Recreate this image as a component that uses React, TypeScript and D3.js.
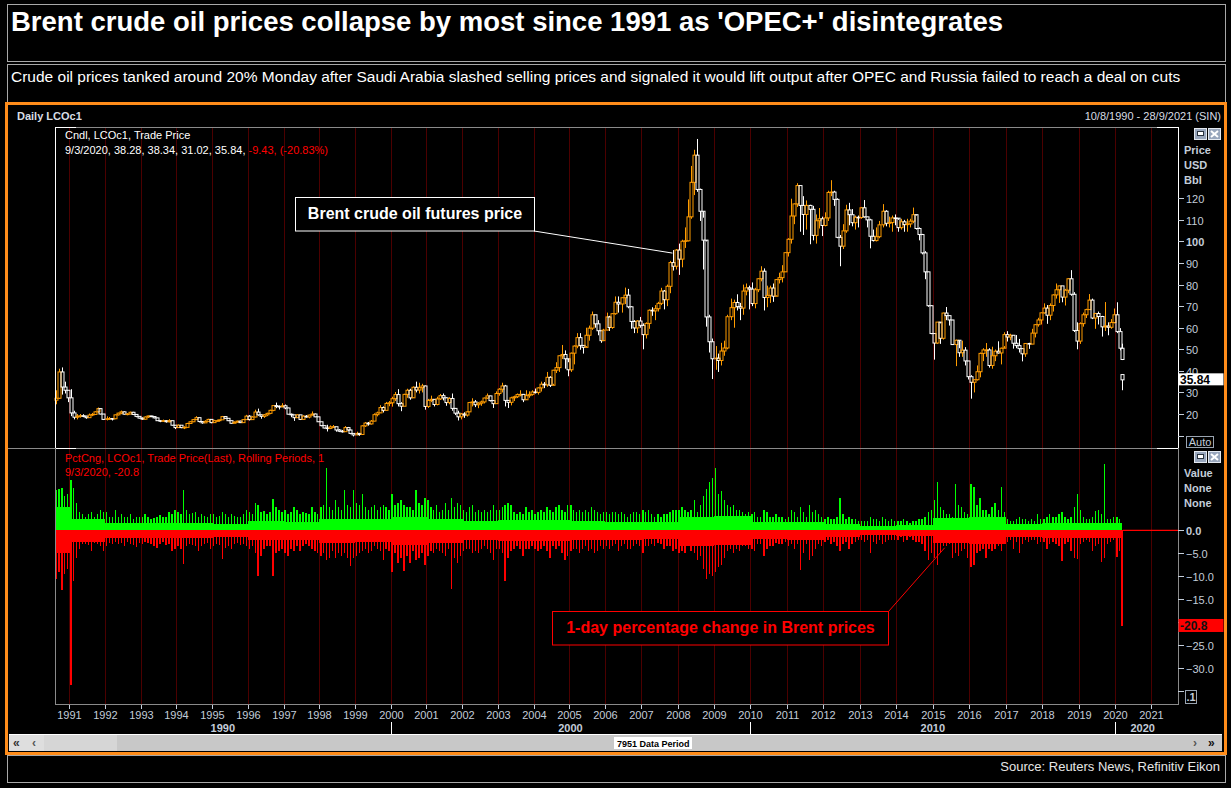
import React from "react";
import * as d3 from "d3";

const W = 1231;
const H = 788;
const ORANGE = "#ff9c00";
const GREEN = "#00ff00";
const RED = "#ff0000";
const AXIS = "#c3cdd9";
const GRID = "#4c0000";
const FONT = "'Liberation Sans', Arial, sans-serif";

// ---- monthly Brent candles, Aug 1990 .. Feb 2020 (open = previous close) ----
const startYear = 1990;
const startMonth = 7;
const firstOpen = 26.4;

const close = [
  27.3, 39.5, 32.5, 31.0, 27.5,
  20.5, 18.5, 19.0, 19.2, 19.0, 18.3, 19.5, 19.8, 21.0, 22.5, 20.0, 17.5,
  17.8, 17.9, 17.8, 19.6, 20.4, 21.0, 19.9, 20.0, 20.8, 19.8, 18.9, 18.1,
  17.6, 18.6, 19.1, 18.8, 18.2, 16.9, 16.7, 16.9, 16.4, 16.9, 14.8, 13.7,
  14.8, 13.7, 13.8, 15.6, 16.4, 17.4, 18.3, 16.5, 15.9, 16.6, 17.5, 16.0,
  16.9, 16.9, 17.3, 18.8, 18.0, 16.9, 15.7, 16.2, 16.7, 16.0, 17.4, 19.0,
  17.4, 18.6, 20.9, 19.6, 18.9, 19.6, 20.3, 21.7, 23.9, 23.5, 23.4, 23.8,
  22.8, 19.9, 19.6, 18.3, 19.6, 17.5, 19.0, 18.6, 19.5, 20.0, 18.7, 16.4,
  14.6, 13.5, 13.3, 14.0, 14.1, 12.6, 12.0, 11.8, 13.7, 12.6, 11.0, 10.3,
  11.0, 10.5, 14.5, 15.8, 15.4, 16.7, 19.7, 20.5, 23.0, 21.7, 24.9, 25.2,
  27.1, 29.0, 24.8, 23.6, 29.1, 31.0, 27.5, 32.4, 31.1, 32.2, 33.0, 23.5,
  26.3, 26.8, 24.4, 27.0, 28.5, 27.5, 25.3, 27.2, 22.6, 20.4, 18.7, 20.0,
  19.5, 21.0, 25.3, 25.6, 24.3, 25.0, 25.6, 27.4, 28.4, 26.2, 24.8, 29.5,
  31.5, 33.0, 26.3, 25.4, 27.5, 28.0, 29.0, 29.1, 26.6, 28.5, 29.1, 30.2,
  30.0, 32.1, 33.8, 33.5, 37.0, 33.3, 40.3, 41.5, 47.0, 47.6, 45.6, 40.5,
  48.2, 51.5, 55.4, 51.8, 50.9, 56.5, 59.8, 66.0, 61.8, 58.6, 54.0, 58.9,
  65.0, 60.1, 66.5, 71.8, 71.0, 73.9, 75.1, 69.7, 62.9, 59.9, 63.1, 61.1,
  56.8, 62.0, 68.1, 67.8, 68.8, 71.3, 77.0, 73.0, 79.2, 90.2, 88.5, 96.0,
  91.8, 100.1, 100.3, 111.4, 127.4, 140.0, 124.1, 114.0, 100.6, 65.0, 53.5, 45.6,
  45.9, 44.8, 49.2, 50.6, 65.1, 69.3, 71.7, 69.8, 69.1, 77.0, 78.5, 77.9,
  71.2, 77.6, 82.7, 86.2, 74.0, 75.0, 78.4, 74.6, 82.3, 83.2, 85.9, 94.8,
  101.0, 111.8, 117.4, 125.9, 116.7, 112.5, 116.7, 114.9, 102.8, 109.6, 110.5, 107.4,
  110.9, 122.7, 122.9, 119.5, 101.9, 97.8, 104.9, 114.6, 112.4, 108.7, 111.2, 111.1,
  115.6, 111.4, 110.0, 102.4, 100.4, 102.2, 107.7, 114.0, 108.4, 108.8, 110.9, 110.8,
  106.4, 109.1, 107.8, 108.1, 109.4, 112.4, 106.0, 103.2, 94.7, 85.9, 70.2, 57.3,
  52.9, 62.6, 55.1, 66.8, 65.6, 63.6, 52.2, 54.2, 48.4, 49.6, 44.6, 37.3,
  34.7, 35.9, 39.6, 48.1, 49.7, 49.7, 42.5, 47.0, 49.1, 48.3, 50.5, 56.8,
  55.7, 56.5, 52.8, 51.7, 50.3, 47.9, 52.7, 52.4, 57.5, 61.4, 63.6, 66.9,
  69.1, 65.8, 70.3, 75.2, 77.6, 79.4, 74.2, 77.4, 82.7, 75.5, 58.7, 53.8,
  61.9, 66.0, 68.4, 72.8, 64.5, 66.6, 65.2, 60.4, 60.8, 60.2, 62.4, 66.0,
  58.2, 50.5,
];

const high = [
  31.0, 41.0, 41.6, 35.0, 31.0,
  31.5, 21.5, 20.0, 20.0, 19.9, 19.2, 20.2, 20.5, 21.3, 23.0, 22.6, 19.9,
  18.9, 18.6, 18.1, 19.8, 20.6, 21.6, 21.3, 20.4, 21.1, 21.0, 19.8, 19.0,
  18.4, 18.9, 19.3, 19.2, 19.0, 18.3, 17.2, 17.4, 17.2, 17.6, 17.0, 14.9,
  15.2, 14.8, 14.3, 15.9, 16.7, 17.7, 19.0, 18.3, 16.7, 17.1, 17.8, 17.4,
  17.3, 17.3, 17.4, 19.1, 19.0, 18.0, 17.0, 16.6, 16.9, 16.9, 17.6, 19.6,
  19.5, 19.0, 22.0, 22.5, 19.8, 20.0, 20.6, 22.0, 24.0, 25.3, 24.0, 25.0,
  24.4, 22.9, 20.2, 19.6, 19.9, 19.6, 19.4, 19.5, 19.7, 21.2, 20.2, 18.7,
  16.4, 14.7, 15.0, 14.7, 14.9, 14.1, 13.0, 12.6, 14.4, 14.0, 12.7, 11.0,
  11.8, 11.2, 14.8, 16.3, 16.3, 17.2, 20.3, 21.1, 24.1, 23.5, 25.6, 26.0,
  28.0, 30.2, 31.5, 25.5, 29.4, 31.7, 31.7, 32.8, 35.0, 34.5, 34.0, 33.2,
  27.0, 28.5, 26.9, 28.0, 29.3, 29.5, 27.8, 27.8, 29.5, 22.8, 21.5, 20.5,
  20.8, 21.2, 25.6, 27.3, 26.5, 25.5, 26.2, 27.6, 29.5, 28.5, 26.5, 30.5,
  32.0, 34.5, 33.5, 26.5, 28.0, 28.5, 29.5, 31.0, 29.3, 31.0, 30.5, 31.0,
  31.8, 32.4, 35.0, 34.8, 39.5, 37.5, 40.5, 44.0, 47.2, 52.0, 49.5, 44.0,
  48.5, 51.8, 57.5, 57.5, 52.0, 60.0, 61.0, 67.5, 66.0, 63.5, 58.5, 59.5,
  67.0, 65.5, 66.8, 74.5, 74.5, 74.0, 78.6, 78.0, 70.0, 63.5, 63.5, 65.0,
  62.0, 62.5, 68.5, 69.5, 70.5, 72.0, 78.5, 77.5, 80.0, 91.0, 96.0, 96.5,
  99.0, 100.8, 106.5, 119.5, 135.0, 142.5, 147.5, 124.5, 111.0, 100.0, 66.0, 55.0,
  51.5, 48.0, 53.0, 54.0, 66.0, 73.5, 73.0, 75.5, 71.5, 80.0, 80.5, 79.5,
  81.0, 78.5, 83.0, 88.5, 87.5, 79.5, 79.5, 80.5, 82.6, 85.5, 89.0, 95.0,
  101.5, 119.8, 117.6, 127.0, 126.0, 121.0, 119.0, 117.0, 116.5, 112.5, 115.5, 111.5,
  113.5, 123.5, 128.4, 123.5, 120.0, 103.0, 108.0, 117.0, 117.9, 115.0, 112.0, 112.0,
  116.0, 119.2, 111.5, 110.5, 105.5, 106.5, 109.5, 117.3, 114.5, 111.5, 112.0, 112.5,
  110.0, 110.5, 110.0, 110.5, 110.5, 115.7, 112.0, 106.5, 103.5, 95.5, 86.0, 70.5,
  57.5, 62.6, 62.0, 67.0, 69.6, 65.5, 63.5, 54.5, 50.5, 54.0, 51.0, 44.5,
  38.0, 36.0, 42.5, 48.5, 50.5, 52.9, 50.5, 51.2, 49.9, 53.7, 50.8, 57.9,
  58.4, 57.2, 56.5, 56.6, 54.8, 50.5, 52.9, 53.0, 59.5, 61.7, 64.6, 67.1,
  71.3, 70.5, 71.3, 75.5, 80.5, 79.5, 79.4, 78.0, 83.0, 86.7, 76.5, 62.5,
  62.5, 67.0, 68.8, 75.6, 73.5, 66.9, 67.5, 65.5, 71.9, 62.5, 64.0, 68.9,
  71.8, 59.8,
];

const low = [
  24.5, 27.0, 29.0, 29.5, 25.5,
  19.0, 17.5, 17.5, 18.3, 18.5, 17.8, 18.3, 19.0, 19.6, 20.7, 19.8, 17.2,
  17.0, 17.3, 17.0, 17.6, 19.3, 19.9, 19.7, 19.4, 19.9, 19.5, 18.5, 17.9,
  17.3, 17.4, 18.2, 18.5, 18.0, 16.8, 16.2, 16.4, 16.0, 16.1, 14.6, 13.0,
  13.5, 13.4, 13.0, 13.8, 15.5, 16.2, 17.3, 16.1, 15.5, 15.8, 16.5, 15.7,
  15.9, 16.6, 16.5, 17.3, 17.8, 16.7, 15.5, 15.7, 16.0, 15.8, 16.0, 17.4,
  17.0, 17.3, 18.5, 19.2, 17.8, 18.2, 19.0, 19.9, 21.3, 22.7, 22.1, 23.0,
  22.2, 19.8, 18.5, 16.8, 18.2, 17.2, 17.6, 18.3, 18.0, 19.3, 18.5, 16.3,
  14.3, 13.3, 11.9, 13.0, 13.6, 11.8, 11.6, 11.4, 11.9, 12.2, 10.6, 9.6,
  10.2, 9.9, 10.5, 14.0, 14.6, 15.1, 16.6, 18.9, 20.7, 20.7, 21.6, 23.6,
  23.4, 26.0, 23.5, 21.3, 23.6, 27.5, 26.6, 27.8, 30.0, 29.5, 30.0, 22.0,
  22.8, 25.5, 23.5, 24.0, 26.5, 26.3, 23.8, 24.5, 21.5, 19.5, 17.0, 17.5,
  18.2, 18.8, 21.0, 23.5, 23.2, 22.7, 23.8, 24.9, 27.0, 25.8, 22.8, 24.8,
  28.5, 30.0, 23.5, 22.8, 24.0, 26.0, 27.4, 28.2, 25.5, 27.0, 27.5, 28.5,
  29.5, 29.0, 30.4, 32.0, 32.6, 32.5, 34.0, 39.0, 39.5, 45.5, 41.0, 37.5,
  39.5, 43.0, 50.5, 49.8, 48.0, 51.5, 54.0, 59.0, 60.0, 56.5, 53.0, 54.0,
  59.0, 58.5, 59.5, 66.0, 67.0, 67.0, 71.0, 69.0, 59.5, 57.5, 57.5, 60.0,
  50.0, 55.0, 59.5, 65.5, 63.5, 67.5, 70.5, 68.5, 70.0, 76.0, 86.5, 87.0,
  84.5, 88.0, 97.0, 100.0, 110.5, 121.5, 123.0, 109.5, 87.0, 60.5, 48.5, 36.2,
  40.5, 39.5, 42.5, 47.0, 50.0, 63.5, 60.0, 68.0, 63.5, 66.0, 75.0, 68.5,
  70.0, 69.0, 76.5, 81.5, 68.0, 69.5, 71.5, 72.0, 75.0, 80.5, 81.0, 86.0,
  93.0, 99.0, 108.0, 116.0, 104.5, 103.0, 105.5, 98.7, 100.5, 99.0, 106.0, 102.5,
  107.0, 109.5, 121.0, 116.5, 101.5, 88.5, 96.5, 104.0, 107.5, 107.0, 105.5, 106.5,
  110.5, 111.0, 106.5, 96.8, 100.0, 100.0, 101.5, 106.5, 107.0, 106.5, 104.5, 107.5,
  104.5, 105.5, 104.5, 104.5, 106.5, 108.5, 105.5, 100.5, 94.0, 82.5, 69.7, 57.0,
  45.2, 52.5, 52.5, 54.5, 63.5, 61.0, 52.0, 42.2, 46.5, 46.5, 42.5, 36.0,
  27.1, 30.0, 35.5, 37.0, 44.5, 46.5, 41.5, 41.0, 44.5, 48.0, 43.0, 51.5,
  53.6, 54.2, 50.3, 50.5, 48.5, 44.4, 46.5, 50.2, 52.5, 55.5, 60.5, 61.5,
  66.5, 61.8, 63.5, 67.5, 73.5, 71.5, 71.8, 70.3, 76.0, 74.8, 58.0, 50.0,
  52.5, 60.5, 64.5, 68.5, 64.0, 59.5, 61.5, 55.9, 58.5, 56.5, 59.5, 62.0,
  57.5, 49.5,
];

// last sessions, March 2020 (week to 6 March, then 9 March)
const lastDates = ["2020-03-04", "2020-03-09"];
const lastOpen = [50.5, 38.28];
const lastHigh = [52.6, 38.34];
const lastLow = [45.0, 31.02];
const lastClose = [45.27, 35.84];

// ---- 1-day % change: biggest daily gain / loss inside each month ----
const upMax = [
  8.7, 9.0, 9.3, 7.5, 8.0,
  11.0, 9.3, 6.0, 4.0, 3.5, 3.0, 3.5, 4.0, 3.0, 3.5, 4.5, 4.0,
  4.0, 3.0, 2.8, 4.4, 3.0, 3.5, 2.8, 3.0, 3.5, 2.5, 3.0, 2.8,
  2.8, 3.5, 3.0, 2.5, 2.6, 3.0, 3.3, 2.8, 3.0, 4.0, 3.5, 4.4,
  4.0, 3.5, 8.7, 4.5, 3.5, 3.8, 4.0, 3.0, 3.5, 3.2, 3.0, 3.5,
  3.5, 3.0, 3.2, 4.0, 3.5, 3.0, 3.5, 3.2, 3.0, 2.8, 3.5, 4.5,
  4.0, 3.5, 6.0, 5.5, 4.0, 4.2, 3.5, 4.0, 6.8, 5.0, 4.5, 4.0,
  4.5, 3.5, 4.0, 5.0, 4.5, 3.5, 4.0, 3.8, 3.5, 5.0, 4.0, 3.5,
  5.0, 5.5, 13.6, 5.0, 4.5, 6.5, 5.0, 4.5, 8.7, 5.5, 5.0, 8.7,
  6.0, 5.5, 8.0, 5.0, 4.5, 5.0, 5.5, 4.5, 5.0, 5.5, 5.0, 4.5,
  8.0, 5.5, 6.0, 6.5, 5.5, 5.0, 5.0, 4.5, 8.7, 6.0, 5.5, 7.0,
  6.5, 5.0, 4.5, 5.5, 4.0, 4.5, 6.0, 4.5, 7.0, 5.0, 6.0, 5.5,
  4.5, 4.0, 5.0, 5.5, 4.0, 4.5, 4.0, 4.5, 4.0, 4.5, 5.5, 4.5,
  4.5, 5.0, 5.5, 6.0, 5.5, 4.0, 3.5, 4.0, 3.5, 5.0, 4.0, 4.5,
  3.5, 4.0, 4.5, 4.0, 5.0, 4.5, 4.0, 5.0, 5.5, 4.5, 4.0, 5.5,
  5.5, 4.5, 4.0, 4.5, 4.0, 4.5, 4.0, 5.0, 4.5, 4.0, 3.5, 4.0,
  4.0, 3.5, 4.0, 4.0, 3.5, 4.0, 3.5, 3.0, 3.5, 4.0, 4.0, 3.5,
  4.5, 4.0, 4.5, 3.5, 3.0, 3.5, 3.0, 3.5, 3.5, 4.0, 4.5, 4.5,
  4.5, 5.0, 4.5, 4.0, 4.5, 6.5, 4.0, 5.5, 7.5, 9.0, 10.5, 11.3,
  13.6, 8.0, 8.5, 6.5, 5.5, 5.0, 5.5, 4.5, 4.5, 4.0, 3.5, 4.0,
  3.5, 4.0, 3.0, 3.0, 4.5, 4.0, 3.0, 3.0, 3.5, 3.0, 3.0, 2.5,
  3.0, 4.5, 4.0, 3.0, 5.0, 4.0, 3.0, 5.5, 4.0, 4.5, 3.5, 3.0,
  2.5, 3.0, 2.5, 2.5, 3.0, 7.0, 3.5, 2.5, 3.0, 2.5, 2.5, 2.0,
  2.0, 2.0, 2.0, 3.0, 2.5, 2.5, 2.0, 3.0, 2.5, 2.0, 2.5, 2.0,
  2.0, 2.0, 2.5, 2.0, 1.5, 2.0, 2.0, 2.5, 2.5, 3.0, 4.0, 4.5,
  6.5, 10.5, 5.0, 4.5, 3.5, 3.5, 3.0, 10.0, 5.5, 5.0, 4.0, 3.5,
  10.0, 9.5, 5.5, 7.0, 4.5, 4.5, 3.5, 5.0, 6.0, 4.5, 9.5, 4.0,
  2.5, 2.0, 2.0, 2.5, 3.0, 2.5, 2.5, 2.0, 2.5, 2.0, 3.5, 2.5,
  2.5, 3.0, 3.5, 3.0, 3.0, 3.5, 4.0, 3.0, 2.5, 3.0, 5.0, 7.8,
  4.5, 3.0, 2.5, 2.5, 3.0, 4.3, 4.5, 3.5, 14.5, 2.5, 2.5, 3.0,
  3.0, 2.5,
];

const dnMax = [
  -10.6, -9.0, -13.0, -9.5, -8.5,
  -33.7, -11.0, -6.0, -4.0, -3.0, -3.0, -3.2, -4.6, -2.8, -3.0, -3.5, -4.6,
  -3.5, -2.8, -3.0, -2.5, -3.0, -2.8, -3.5, -2.5, -3.0, -3.2, -3.6, -2.8,
  -3.0, -2.5, -2.8, -3.0, -3.5, -3.8, -3.0, -2.6, -3.2, -3.0, -4.5, -4.0,
  -3.5, -4.0, -7.4, -3.5, -3.0, -3.2, -3.5, -4.5, -3.5, -3.0, -2.8, -4.0,
  -3.5, -3.0, -3.2, -6.3, -3.8, -3.5, -4.0, -3.0, -2.8, -3.2, -3.0, -3.5,
  -4.0, -3.5, -5.0, -10.0, -5.5, -4.0, -3.5, -3.5, -10.0, -5.0, -4.5, -4.0,
  -5.0, -5.5, -4.0, -4.5, -3.5, -4.5, -3.5, -3.0, -3.5, -4.0, -4.5, -5.0,
  -5.5, -5.0, -6.5, -6.0, -4.5, -6.0, -5.0, -5.5, -5.0, -6.0, -7.8, -6.0,
  -5.5, -5.0, -4.5, -4.0, -5.0, -4.5, -3.5, -4.0, -4.5, -6.5, -4.0, -4.5,
  -9.0, -5.0, -7.0, -6.0, -8.9, -5.5, -7.0, -4.5, -6.5, -6.0, -5.0, -7.5,
  -5.5, -4.5, -5.0, -4.0, -4.5, -5.0, -5.5, -4.0, -12.7, -6.0, -7.0, -5.5,
  -4.5, -4.0, -4.0, -5.0, -4.5, -5.0, -4.0, -3.5, -4.0, -5.0, -6.5, -4.0,
  -4.0, -5.0, -11.0, -6.0, -4.5, -4.0, -3.5, -4.0, -5.5, -4.0, -4.0, -3.5,
  -4.0, -4.5, -4.0, -3.5, -4.5, -6.0, -3.5, -4.0, -3.5, -5.0, -6.5, -5.5,
  -4.5, -4.0, -4.0, -5.0, -4.0, -3.5, -4.5, -4.0, -5.0, -4.5, -3.5, -4.0,
  -3.5, -4.0, -3.5, -3.0, -4.5, -3.5, -3.0, -4.0, -4.0, -3.5, -3.0, -3.5,
  -5.0, -3.5, -3.5, -3.0, -3.5, -2.8, -3.0, -4.0, -3.5, -3.5, -4.5, -4.0,
  -5.0, -4.5, -5.0, -3.5, -4.5, -5.0, -6.5, -5.5, -8.5, -10.5, -9.5, -10.0,
  -9.0, -8.0, -7.5, -6.0, -4.5, -4.0, -5.0, -4.0, -4.5, -3.5, -3.5, -4.0,
  -4.0, -4.5, -3.0, -3.0, -5.5, -4.0, -3.5, -3.5, -2.8, -3.0, -3.0, -2.5,
  -3.5, -3.0, -4.0, -3.0, -8.6, -5.0, -3.0, -6.5, -5.5, -4.0, -3.0, -3.5,
  -2.5, -2.0, -3.0, -2.5, -3.5, -4.5, -3.0, -2.5, -4.0, -3.0, -2.5, -2.0,
  -2.0, -2.5, -2.0, -5.0, -2.5, -3.0, -2.0, -3.0, -2.5, -2.0, -2.0, -2.0,
  -2.0, -1.5, -2.5, -2.0, -1.5, -2.0, -2.5, -2.5, -3.0, -4.5, -6.5, -5.0,
  -6.0, -7.5, -5.0, -3.5, -3.5, -3.0, -6.0, -5.0, -5.5, -4.5, -4.0, -6.0,
  -8.0, -7.5, -5.0, -4.5, -4.0, -6.0, -4.0, -4.5, -4.0, -3.5, -4.5, -3.0,
  -2.5, -2.0, -4.0, -2.5, -5.0, -3.0, -2.0, -2.5, -2.0, -2.0, -3.0, -2.5,
  -2.5, -4.0, -3.0, -2.5, -3.0, -3.5, -6.7, -3.0, -2.5, -4.5, -6.0, -6.2,
  -3.0, -2.5, -2.0, -2.5, -4.5, -3.5, -3.0, -6.8, -6.0, -3.0, -2.5, -2.0,
  -5.9, -4.5,
];

// typical daily move per year (the solid band around zero), 1990..2020
const baseYears = d3.range(1990, 2021);
const upBase = [5.0, 2.5, 1.5, 1.5, 1.6, 1.4, 2.0, 1.8, 2.5, 2.5, 3.0, 2.5, 2.0, 2.2, 2.2, 2.0, 1.8, 1.7, 3.0, 3.2, 1.7, 1.8, 1.3, 1.0, 1.1, 2.6, 3.0, 1.3, 1.5, 1.5, 1.5];
const dnBase = [-5.0, -2.5, -1.6, -1.6, -1.7, -1.5, -2.2, -2.0, -2.7, -2.6, -3.2, -2.7, -2.2, -2.3, -2.3, -2.1, -2.0, -1.8, -3.5, -3.3, -1.8, -2.0, -1.4, -1.1, -1.3, -2.8, -3.0, -1.4, -1.6, -1.6, -1.7];

const lastPctUp = [1.6, 0];
const lastPctDn = [-6.0, -20.8];

// ---- axes ----
const yearTicks = d3.range(1991, 2022);
const decades = [1990, 2000, 2010, 2020];
const priceTicks = d3.range(10, 130, 10);
const pctTicks = [0, -5, -10, -15, -20, -25, -30, -35];

// ---- geometry ----
const L = 55;
const R = 1178;
const P_TOP = 127;
const P_BOT = 448;
const C_BOT = 704;

const parse = d3.timeParse("%Y-%m-%d");

// index-based axis in the original: years are not all equally wide
const x = d3
  .scaleTime()
  .domain([
    new Date(1990, 7, 8),
    new Date(1991, 0, 1),
    new Date(2006, 0, 1),
    new Date(2010, 0, 1),
    new Date(2020, 0, 1),
    new Date(2021, 8, 28),
  ])
  .range([L, 69.3, 605, 750.3, 1115.3, R]);

const yP = d3.scaleLinear().domain([20, 120]).range([414, 198.3]);
const yC = d3.scaleLinear().domain([0, -30]).range([530.3, 668.3]);

type Bar = {
  start: Date;
  end: Date;
  mid: Date;
  open: number;
  high: number;
  low: number;
  close: number;
  year: number;
  up: number;
  dn: number;
};

const months: Bar[] = close.map((c, i) => {
  const start = new Date(startYear, startMonth + i, i === 0 ? 10 : 1);
  const end = new Date(startYear, startMonth + i + 1, 1);
  return {
    start,
    end,
    mid: new Date((start.getTime() + end.getTime()) / 2),
    open: i === 0 ? firstOpen : close[i - 1],
    high: high[i],
    low: low[i],
    close: c,
    year: start.getFullYear(),
    up: upMax[i],
    dn: dnMax[i],
  };
});

const finals = lastDates.map((d, i) => {
  const dt = parse(d) as Date;
  return {
    mid: dt,
    open: lastOpen[i],
    high: lastHigh[i],
    low: lastLow[i],
    close: lastClose[i],
    up: lastPctUp[i],
    dn: lastPctDn[i],
  };
});

const Candle: React.FC<{ d: { mid: Date; open: number; high: number; low: number; close: number } }> = ({ d }) => {
  const cx = Math.round(x(d.mid)) + 0.5;
  const col = d.close >= d.open ? ORANGE : "#ffffff";
  const top = yP(Math.max(d.open, d.close));
  const bot = yP(Math.min(d.open, d.close));
  return (
    <g stroke={col} strokeWidth={1}>
      <line x1={cx} x2={cx} y1={yP(d.high)} y2={top} />
      <line x1={cx} x2={cx} y1={bot} y2={yP(d.low)} />
      <rect x={cx - 1.5} y={top} width={3} height={Math.max(0.6, bot - top)} fill="none" />
    </g>
  );
};

const PanelButtons: React.FC<{ y: number }> = ({ y }) => (
  <g>
    <rect x={1194.5} y={y + 0.5} width={12} height={11} fill="#98a6bc" stroke="#e4e9f0" />
    <rect x={1197.5} y={y + 3.5} width={6} height={4} fill="#ffffff" stroke="#2a3440" />
    <rect x={1208.5} y={y + 0.5} width={12} height={11} fill="#98a6bc" stroke="#e4e9f0" />
    <path
      d={`M${1211},${y + 3} L${1218},${y + 9} M${1218},${y + 3} L${1211},${y + 9}`}
      stroke="#ffffff"
      strokeWidth={2}
    />
  </g>
);

export default function App() {
  const zero = yC(0);
  const lastX = x(finals[finals.length - 1].mid);
  const lastPrice = lastClose[lastClose.length - 1];
  const lastPct = lastPctDn[lastPctDn.length - 1];

  return (
    <svg
      width={W}
      height={H}
      style={{ position: "absolute", left: 0, top: 0, background: "#000" }}
      fontFamily={FONT}
    >
      <rect width={W} height={H} fill="#000" />

      {/* title and subtitle boxes */}
      <rect x={7.5} y={4.5} width={1218} height={57} fill="none" stroke="#a8a8a8" />
      <rect x={7.5} y={64.5} width={1218} height={40} fill="none" stroke="#a8a8a8" />
      <text x={11} y={31} fill="#fff" fontSize={27.5} fontWeight="bold">
        Brent crude oil prices collapse by most since 1991 as 'OPEC+' disintegrates
      </text>
      <text x={11} y={82} fill="#fff" fontSize={15.5}>
        Crude oil prices tanked around 20% Monday after Saudi Arabia slashed selling prices and signaled it would lift output after OPEC and Russia failed to reach a deal on cuts
      </text>

      {/* source box */}
      <rect x={7.5} y={755.5} width={1218} height={27} fill="none" stroke="#a8a8a8" />
      <text x={1220} y={771} fill="#e6e6e6" fontSize={13} textAnchor="end">
        Source: Reuters News, Refinitiv Eikon
      </text>

      {/* orange frame */}
      <rect x={6.5} y={103.5} width={1219} height={650} fill="#000" stroke="#ff8c1a" strokeWidth={3} />

      <text x={17} y={120} fill="#d8dde4" fontSize={11} fontWeight="bold">
        Daily LCOc1
      </text>
      <text x={1221} y={120} fill="#d8dde4" fontSize={11} textAnchor="end">
        10/8/1990 - 28/9/2021 (SIN)
      </text>

      {/* year grid lines */}
      <g stroke={GRID} strokeWidth={1}>
        {yearTicks.map((yr) => {
          const gx = Math.round(x(new Date(yr, 0, 1))) + 0.5;
          return <line key={yr} x1={gx} x2={gx} y1={P_TOP + 1} y2={C_BOT} />;
        })}
      </g>

      {/* price candles */}
      {months.map((d, i) => (
        <Candle key={i} d={d} />
      ))}
      {finals.map((d, i) => (
        <Candle key={"f" + i} d={d} />
      ))}

      {/* percentage change bars */}
      <g shapeRendering="crispEdges">
        {months.map((m, i) => {
          const x0 = x(m.start);
          const x1 = x(m.end);
          const cx = x(m.mid);
          const bi = baseYears.indexOf(m.year);
          const ub = Math.min(upBase[bi], m.up);
          const db = Math.max(dnBase[bi], m.dn);
          return (
            <g key={i}>
              <rect x={x0} width={x1 - x0 + 0.4} y={yC(ub)} height={zero - yC(ub)} fill={GREEN} />
              <rect x={cx - 0.7} width={1.4} y={yC(m.up)} height={zero - yC(m.up)} fill={GREEN} />
              <rect x={x0} width={x1 - x0 + 0.4} y={zero} height={yC(db) - zero} fill={RED} />
              <rect x={cx - 0.7} width={1.4} y={zero} height={yC(m.dn) - zero} fill={RED} />
            </g>
          );
        })}
        {finals.map((m, i) => {
          const cx = x(m.mid);
          return (
            <g key={"p" + i}>
              {m.up > 0 && <rect x={cx - 0.7} width={1.4} y={yC(m.up)} height={zero - yC(m.up)} fill={GREEN} />}
              <rect x={cx - 0.7} width={1.4} y={zero} height={yC(m.dn) - zero} fill={RED} />
            </g>
          );
        })}
      </g>
      <line x1={lastX + 1} x2={R} y1={zero} y2={zero} stroke={RED} strokeWidth={1.2} />

      {/* panel borders */}
      <line x1={L} x2={R} y1={P_TOP + 0.5} y2={P_TOP + 0.5} stroke="#8a8a8a" />
      <line x1={L} x2={L + 21} y1={P_TOP + 0.5} y2={P_TOP + 0.5} stroke="#fff" />
      <line x1={R - 21} x2={R} y1={P_TOP + 0.5} y2={P_TOP + 0.5} stroke="#fff" />
      <line x1={L + 0.5} x2={L + 0.5} y1={P_TOP} y2={P_BOT} stroke="#fff" />
      <line x1={R + 0.5} x2={R + 0.5} y1={P_TOP} y2={P_BOT} stroke="#fff" />
      <line x1={8} x2={R} y1={P_BOT + 0.5} y2={P_BOT + 0.5} stroke="#8a8a8a" />
      <line x1={L} x2={L + 21} y1={P_BOT + 0.5} y2={P_BOT + 0.5} stroke="#fff" />
      <line x1={R - 21} x2={R} y1={P_BOT + 0.5} y2={P_BOT + 0.5} stroke="#fff" />
      <line x1={L + 0.5} x2={L + 0.5} y1={P_BOT} y2={C_BOT} stroke="#8a8a8a" />
      <line x1={R + 0.5} x2={R + 0.5} y1={P_BOT} y2={C_BOT} stroke="#8a8a8a" />
      <line x1={L} x2={R + 1} y1={C_BOT + 0.5} y2={C_BOT + 0.5} stroke="#8a8a8a" />

      {/* price panel legend */}
      <text x={65} y={139} fill="#fff" fontSize={11}>
        Cndl, LCOc1, Trade Price
      </text>
      <text x={65} y={154} fill="#fff" fontSize={11}>
        9/3/2020, 38.28, 38.34, 31.02, 35.84, <tspan fill={RED}>-9.43, (-20.83%)</tspan>
      </text>

      {/* pct panel legend */}
      <text x={65} y={462} fill={RED} fontSize={11}>
        PctCng, LCOc1, Trade Price(Last), Rolling Periods, 1
      </text>
      <text x={65} y={476} fill={RED} fontSize={11}>
        9/3/2020, -20.8
      </text>

      {/* price axis */}
      <g fill={AXIS} fontSize={11} fontWeight="bold">
        <text x={1184} y={154}>Price</text>
        <text x={1184} y={169}>USD</text>
        <text x={1184} y={184}>Bbl</text>
      </g>
      <g fontSize={11}>
        {priceTicks.map((t) => {
          const ty = Math.round(yP(t)) + 0.5;
          return (
            <g key={t}>
              <line x1={R} x2={R + 6} y1={ty} y2={ty} stroke={AXIS} />
              {t >= 20 && (
                <text x={R + 8} y={ty + 4} fill={AXIS} fontWeight={t === 100 ? "bold" : "normal"}>
                  {t}
                </text>
              )}
            </g>
          );
        })}
      </g>
      <rect x={R + 0.5} y={yP(lastPrice) - 6.5} width={45} height={12} fill="#fff" />
      <text x={R + 2} y={yP(lastPrice) + 4} fill="#000" fontSize={12} fontWeight="bold">
        {lastPrice.toFixed(2)}
      </text>
      <rect x={1186.5} y={436.5} width={27} height={11} fill="#000" stroke="#9aa4b0" />
      <text x={1200} y={445.5} fill={AXIS} fontSize={11} textAnchor="middle">
        Auto
      </text>
      <PanelButtons y={128} />

      {/* pct axis (the -20 label sits under the last-value box) */}
      <g fontSize={11}>
        {pctTicks.map((t) => {
          const ty = Math.round(yC(t)) + 0.5;
          return (
            <g key={t}>
              <line x1={R} x2={R + 6} y1={ty} y2={ty} stroke={AXIS} />
              {t > -35 && t !== -20 && (
                <text x={R + 8} y={ty + 4} fill={AXIS} fontWeight={t === 0 ? "bold" : "normal"}>
                  {d3.format(".1f")(t)}
                </text>
              )}
            </g>
          );
        })}
      </g>
      <g fill={AXIS} fontSize={11} fontWeight="bold">
        <text x={1184} y={477}>Value</text>
        <text x={1184} y={492}>None</text>
        <text x={1184} y={507}>None</text>
      </g>
      <rect x={R + 0.5} y={yC(lastPct) - 7} width={45} height={13} fill={RED} />
      <text x={R + 2} y={yC(lastPct) + 4} fill="#111" fontSize={12} fontWeight="bold">
        {lastPct.toFixed(1)}
      </text>
      <rect x={1185.5} y={690.5} width={11} height={13} fill="#000" stroke="#9aa4b0" />
      <text x={1191} y={701} fill={AXIS} fontSize={11} fontWeight="bold" textAnchor="middle">
        .1
      </text>
      <PanelButtons y={451} />

      {/* time axis */}
      <g fontSize={11} fill={AXIS} textAnchor="middle">
        {yearTicks.map((yr) => {
          const tx = Math.round(x(new Date(yr, 0, 1))) + 0.5;
          return (
            <g key={yr}>
              <line x1={tx} x2={tx} y1={C_BOT + 1} y2={C_BOT + 5} stroke={AXIS} />
              <text x={tx} y={719}>
                {yr}
              </text>
            </g>
          );
        })}
      </g>
      <g fontSize={11} fill={AXIS} fontWeight="bold" textAnchor="middle">
        {decades.map((dc) => {
          const a = Math.max(L, x(new Date(dc, 0, 1)));
          const b = Math.min(R, x(new Date(dc + 10, 0, 1)));
          return (
            <g key={dc}>
              {dc > 1990 && <line x1={Math.round(a) + 0.5} x2={Math.round(a) + 0.5} y1={722} y2={735} stroke="#fff" />}
              <text x={(a + b) / 2 - (dc === 2020 ? 4 : 0)} y={732}>
                {dc}
              </text>
            </g>
          );
        })}
      </g>

      {/* scroll bar */}
      <line x1={9} x2={1222} y1={734.5} y2={734.5} stroke="#fff" />
      <rect x={9} y={735} width={1213} height={16} fill="#c8c8c8" />
      <rect x={9} y={735} width={35} height={16} fill="#dedede" />
      <rect x={44} y={735} width={73} height={16} fill="#d6d6d6" />
      <text x={13} y={747} fontSize={12} fontWeight="bold" fill="#333">«</text>
      <text x={32} y={747} fontSize={12} fontWeight="bold" fill="#555">‹</text>
      <text x={1193} y={747} fontSize={12} fontWeight="bold" fill="#555">›</text>
      <text x={1208} y={747} fontSize={12} fontWeight="bold" fill="#111">»</text>
      <rect x={614} y={737} width={78} height={12} fill="#fff" />
      <text x={617} y={746.5} fontSize={9} fontWeight="bold" fill="#000">
        7951 Data Period
      </text>

      {/* annotations */}
      <line
        x1={534}
        y1={231}
        x2={x(new Date(2007, 10, 10))}
        y2={yP(94.6)}
        stroke="#fff"
        strokeWidth={1}
      />
      <rect x={295.5} y={197.5} width={239} height={33.5} fill="#000" stroke="#fff" />
      <text x={415} y={219} fill="#fff" fontSize={16} fontWeight="bold" textAnchor="middle">
        Brent crude oil futures price
      </text>

      <line
        x1={888.5}
        y1={611.5}
        x2={x(new Date(2015, 3, 30))}
        y2={yC(-3.8)}
        stroke={RED}
        strokeWidth={1}
      />
      <rect x={552.5} y={611.5} width={336} height={33.5} fill="#000" stroke={RED} />
      <text x={720.5} y={633} fill={RED} fontSize={16} fontWeight="bold" textAnchor="middle">
        1-day percentage change in Brent prices
      </text>
    </svg>
  );
}
